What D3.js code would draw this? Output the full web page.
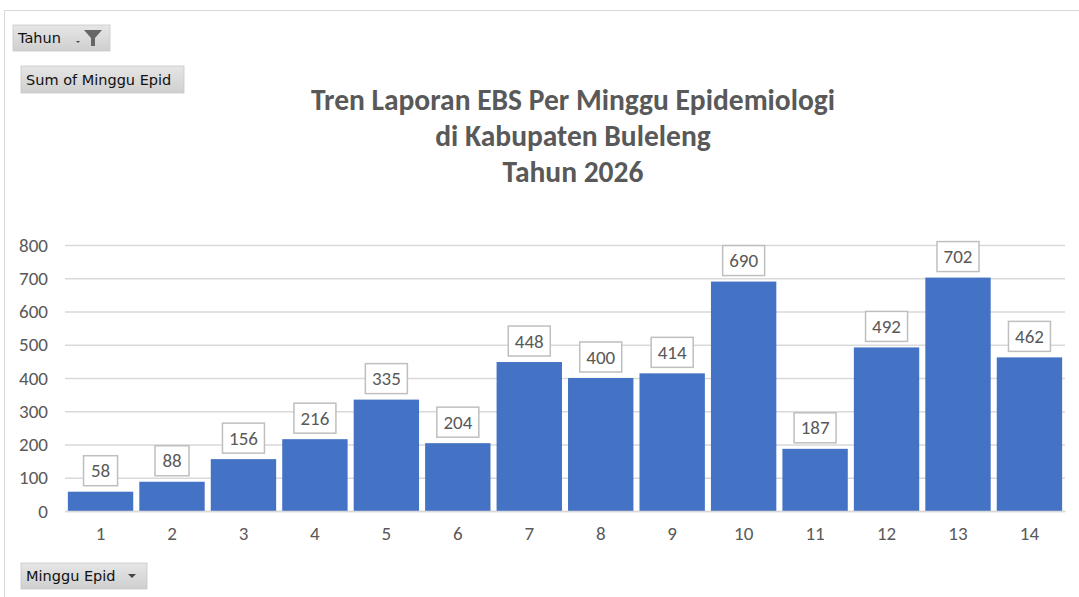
<!DOCTYPE html>
<html>
<head>
<meta charset="utf-8">
<script src="https://cdn.jsdelivr.net/npm/d3@7"></script>
<style>
  body { margin: 0; background: #fff; }
  svg { display: block; }
</style>
</head>
<body>
<div id="chart"></div>
<script>
var weeks = ["1","2","3","4","5","6","7","8","9","10","11","12","13","14"];
var reports = [58, 88, 156, 216, 335, 204, 448, 400, 414, 690, 187, 492, 702, 462];
var yTicks = [0, 100, 200, 300, 400, 500, 600, 700, 800];
var titleLines = ["Tren Laporan EBS Per Minggu Epidemiologi", "di Kabupaten Buleleng", "Tahun 2026"];

var width = 1079, height = 597;
var margin = {top: 245, right: 14, bottom: 86, left: 65};
var textCol = "#595959";
var font = "Carlito, Calibri, 'Open Sans', sans-serif";

var svg = d3.select("#chart").append("svg")
  .attr("width", width)
  .attr("height", height);

// frame lines of the chart area
svg.append("line").attr("x1", 4).attr("x2", width).attr("y1", 10.5).attr("y2", 10.5)
  .attr("stroke", "#d9d9d9").attr("stroke-width", 1);
svg.append("line").attr("x1", 4.5).attr("x2", 4.5).attr("y1", 10).attr("y2", height)
  .attr("stroke", "#d9d9d9").attr("stroke-width", 1);

var x = d3.scaleBand()
  .domain(weeks)
  .range([margin.left, width - margin.right])
  .paddingInner(0.085)
  .paddingOuter(0.04);

var y = d3.scaleLinear()
  .domain([0, 800])
  .range([height - margin.bottom, margin.top]);

// gridlines + y labels
var yAxis = d3.axisLeft(y)
  .tickValues(yTicks)
  .tickSize(-(width - margin.right - margin.left))
  .tickPadding(17);

var yg = svg.append("g")
  .attr("transform", "translate(" + margin.left + ",0)")
  .call(yAxis);
yg.select(".domain").remove();
yg.selectAll(".tick line").attr("stroke", "#d9d9d9").attr("stroke-width", 1.3);
yg.selectAll(".tick text")
  .attr("fill", textCol)
  .style("font-family", font)
  .style("font-size", "19px");

// bars
svg.selectAll("rect.bar")
  .data(reports)
  .enter()
  .append("rect")
  .attr("class", "bar")
  .attr("x", function(d, i) { return x(weeks[i]); })
  .attr("y", function(d) { return y(d); })
  .attr("width", x.bandwidth())
  .attr("height", function(d) { return y(0) - y(d); })
  .attr("fill", "#4472c4");

// x axis
var xAxis = d3.axisBottom(x).tickSize(0).tickPadding(16);
var xg = svg.append("g")
  .attr("transform", "translate(0," + y(0) + ")")
  .call(xAxis);
xg.select(".domain").attr("stroke", "#d9d9d9").attr("stroke-width", 1.3);
xg.selectAll(".tick text")
  .attr("fill", textCol)
  .style("font-family", font)
  .style("font-size", "19px");

// data labels in boxes
var labels = svg.selectAll("g.lbl")
  .data(reports)
  .enter()
  .append("g")
  .attr("class", "lbl")
  .attr("transform", function(d, i) {
    return "translate(" + (x(weeks[i]) + x.bandwidth() / 2) + "," + (y(d) - 21) + ")";
  });

labels.append("rect")
  .attr("x", function(d) { return String(d).length > 2 ? -21 : -17; })
  .attr("y", -15)
  .attr("width", function(d) { return String(d).length > 2 ? 42 : 34; })
  .attr("height", 30)
  .attr("fill", "#fff")
  .attr("stroke", "#bfbfbf")
  .attr("stroke-width", 1.5);

labels.append("text")
  .attr("text-anchor", "middle")
  .attr("dy", "0.35em")
  .attr("fill", textCol)
  .style("font-family", font)
  .style("font-size", "19px")
  .text(function(d) { return d; });

// title
svg.append("text")
  .attr("x", 573)
  .attr("y", 100)
  .attr("text-anchor", "middle")
  .attr("fill", textCol)
  .style("font-family", font)
  .style("font-size", "29.5px")
  .style("font-weight", "bold")
  .selectAll("tspan")
  .data(titleLines)
  .enter()
  .append("tspan")
  .attr("x", 573)
  .attr("dy", function(d, i) { return i === 0 ? "0.35em" : 36; })
  .text(function(d) { return d; });

// pivot field buttons
var grad = svg.append("defs").append("linearGradient")
  .attr("id", "btn").attr("x1", 0).attr("y1", 0).attr("x2", 0).attr("y2", 1);
grad.append("stop").attr("offset", "0%").attr("stop-color", "#e6e6e6");
grad.append("stop").attr("offset", "100%").attr("stop-color", "#cfcfcf");

var buttons = [
  {label: "Tahun", x: 13, y: 25, w: 97, h: 26, icon: "filter"},
  {label: "Sum of Minggu Epid", x: 21, y: 66, w: 163, h: 27, icon: null},
  {label: "Minggu Epid", x: 21, y: 563, w: 126, h: 26, icon: "drop"}
];

var btn = svg.selectAll("g.btn")
  .data(buttons)
  .enter()
  .append("g")
  .attr("class", "btn")
  .attr("transform", function(d) { return "translate(" + d.x + "," + d.y + ")"; });

btn.append("rect")
  .attr("width", function(d) { return d.w; })
  .attr("height", function(d) { return d.h; })
  .attr("fill", "url(#btn)")
  .attr("stroke", "#c8c8c8")
  .attr("stroke-width", 0.8);

btn.append("text")
  .attr("x", 5)
  .attr("y", function(d) { return d.h / 2; })
  .attr("dy", "0.35em")
  .attr("fill", "#111")
  .style("font-family", "'DejaVu Sans', sans-serif")
  .style("font-size", "14.5px")
  .text(function(d) { return d.label; });

var tb = btn.filter(function(d) { return d.icon === "filter"; });
tb.append("path").attr("d", "M63,16 L67,16 L65,18 Z").attr("fill", "#444");
tb.append("path").attr("d", "M71,5 L89,5 L82,13 L82,21 L78,21 L78,13 Z").attr("fill", "#666");

var db = btn.filter(function(d) { return d.icon === "drop"; });
db.append("path").attr("d", "M107,11 L115,11 L111,15 Z").attr("fill", "#444");
</script>
</body>
</html>
